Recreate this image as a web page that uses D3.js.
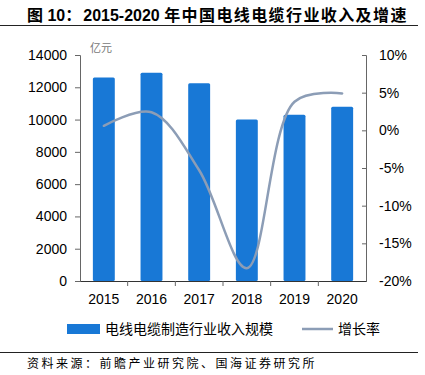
<!DOCTYPE html>
<html>
<head>
<meta charset="utf-8">
<script src="https://cdn.jsdelivr.net/npm/d3@7"></script>
<style>
  body { margin: 0; background: #fff; }
  svg { display: block; font-family: "Liberation Sans", Arial, "Noto Sans CJK SC", sans-serif; }
</style>
</head>
<body>
<div id="chart"></div>
<script>
// data
const years = ['2015', '2016', '2017', '2018', '2019', '2020'];
const revenue = [12600, 12900, 12250, 10000, 10300, 10800];   // 亿元
const growth = [0.6, 2.4, -5.3, -18.3, 3.8, 4.9];             // %
const leftTicks = [0, 2000, 4000, 6000, 8000, 10000, 12000, 14000];
const rightTicks = [-20, -15, -10, -5, 0, 5, 10];

const W = 425, H = 375;
const margin = {top: 55, right: 59, bottom: 94, left: 80};
const width = W - margin.left - margin.right;
const height = H - margin.top - margin.bottom;

const svg = d3.select('#chart').append('svg')
  .attr('width', W)
  .attr('height', H);

// title
const title = svg.append('text')
  .attr('x', 27).attr('y', 21)
  .style('font-family', '"Liberation Sans", "Noto Sans CJK SC", sans-serif')
  .style('font-weight', 'bold')
  .style('font-size', '16px')
  .attr('fill', '#000');
title.append('tspan').text('图 10：');
title.append('tspan').attr('dx', 2).text('2015-2020 ');
title.append('tspan').style('letter-spacing', '1.4px').text('年中国电线电缆行业收入及增速');

svg.append('line')
  .attr('x1', 0).attr('x2', 418)
  .attr('y1', 25.5).attr('y2', 25.5)
  .attr('stroke', '#222').attr('stroke-width', 1);

svg.append('line')
  .attr('x1', 0).attr('x2', 418)
  .attr('y1', 352.5).attr('y2', 352.5)
  .attr('stroke', '#222').attr('stroke-width', 1);

svg.append('text')
  .attr('x', 27).attr('y', 368)
  .style('font-family', '"Noto Sans CJK SC", sans-serif')
  .style('font-size', '12px')
  .style('letter-spacing', '2.5px')
  .attr('fill', '#000')
  .text('资料来源：前瞻产业研究院、国海证券研究所');

const xScale = d3.scaleBand()
  .domain(years)
  .range([0, width])
  .paddingInner(0.54)
  .paddingOuter(0.27);

const yLeft = d3.scaleLinear().domain([0, 14000]).range([height, 0]);
const yRight = d3.scaleLinear().domain([-20, 10]).range([height, 0]);

const plotArea = svg.append('g')
  .attr('transform', `translate(${margin.left}, ${margin.top})`);

// bars
plotArea.selectAll('rect.bar')
  .data(revenue)
  .join('rect')
    .attr('class', 'bar')
    .attr('x', (d, i) => xScale(years[i]))
    .attr('y', d => yLeft(d))
    .attr('width', xScale.bandwidth())
    .attr('height', d => height - yLeft(d))
    .attr('fill', '#1878d6')
    .attr('rx', 1.5);

// growth line
const line = d3.line()
  .x((d, i) => xScale(years[i]) + xScale.bandwidth() / 2)
  .y(d => yRight(d))
  .curve(d3.curveCatmullRom.alpha(0.5));

plotArea.append('path')
  .datum(growth)
  .attr('d', line)
  .attr('fill', 'none')
  .attr('stroke', '#8c9db6')
  .attr('stroke-width', 2.5)
  .attr('stroke-linecap', 'round');

// axes
const axisColor = '#666';
const leftAxis = plotArea.append('g')
  .call(d3.axisLeft(yLeft).tickValues(leftTicks).tickSize(5).tickPadding(8).tickFormat(d3.format('d')));
const rightAxis = plotArea.append('g')
  .attr('transform', `translate(${width}, 0)`)
  .call(d3.axisRight(yRight).tickValues(rightTicks).tickSize(-4).tickPadding(13).tickFormat(d => d + '%'));
const bottomAxis = plotArea.append('g')
  .attr('transform', `translate(0, ${height})`)
  .call(d3.axisBottom(xScale).tickSize(0).tickPadding(13));

// category boundary ticks on the x axis
const step = xScale.step();
plotArea.append('g')
  .selectAll('line')
  .data(years.slice(1))
  .join('line')
    .attr('x1', (d, i) => step * (i + 1))
    .attr('x2', (d, i) => step * (i + 1))
    .attr('y1', height)
    .attr('y2', height + 5)
    .attr('stroke', axisColor);

[leftAxis, rightAxis, bottomAxis].forEach(a => {
  a.select('.domain').attr('stroke', axisColor);
  a.selectAll('.tick line').attr('stroke', axisColor);
  a.selectAll('text')
    .style('font-family', '"Liberation Sans", Arial, sans-serif')
    .style('font-size', '14px')
    .attr('fill', '#000');
});
bottomAxis.select('.domain').attr('stroke', '#333');

// unit label
plotArea.append('text')
  .attr('x', 10).attr('y', -3)
  .style('font-family', '"Noto Sans CJK SC", sans-serif')
  .style('font-size', '11px')
  .attr('fill', '#777')
  .text('亿元');

// legend
const legend = svg.append('g');
legend.append('rect')
  .attr('x', 67).attr('y', 324)
  .attr('width', 33).attr('height', 10)
  .attr('fill', '#1878d6');
legend.append('text')
  .attr('x', 105).attr('y', 334)
  .style('font-family', '"Noto Sans CJK SC", sans-serif')
  .style('font-size', '14px')
  .attr('fill', '#000')
  .text('电线电缆制造行业收入规模');
legend.append('line')
  .attr('x1', 302).attr('x2', 333)
  .attr('y1', 329).attr('y2', 329)
  .attr('stroke', '#8c9db6').attr('stroke-width', 2.5);
legend.append('text')
  .attr('x', 338).attr('y', 334)
  .style('font-family', '"Noto Sans CJK SC", sans-serif')
  .style('font-size', '14px')
  .attr('fill', '#000')
  .text('增长率');
</script>
</body>
</html>
